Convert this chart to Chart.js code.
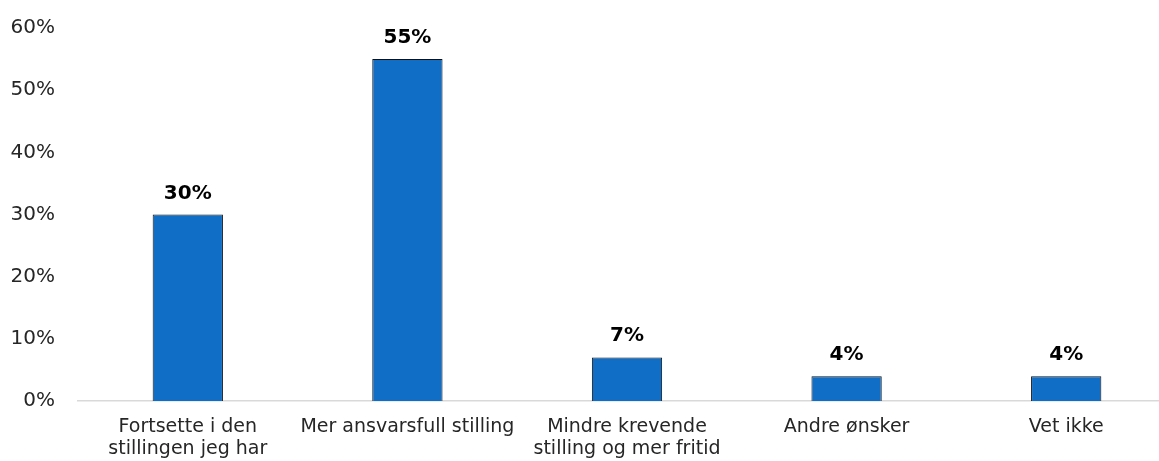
<!DOCTYPE html>
<html>
<head>
<meta charset="utf-8">
<script src="https://cdn.jsdelivr.net/npm/chart.js@4"></script>
<style>
  html, body { margin: 0; padding: 0; background: #fff; overflow: hidden; }
  #wrap { width: 1176px; height: 461px; }
</style>
</head>
<body>
<div id="wrap"><canvas id="c" width="1176" height="461"></canvas></div>
<script>
const categories = [
  ['Fortsette i den', 'stillingen jeg har'],
  'Mer ansvarsfull stilling',
  ['Mindre krevende', 'stilling og mer fritid'],
  'Andre ønsker',
  'Vet ikke'
];
const shares = [30, 55, 7, 4, 4];
const valueLabels = ['30%', '55%', '7%', '4%', '4%'];
const yTicks = [0, 10, 20, 30, 40, 50, 60];

const FONT = "'DejaVu Sans', sans-serif";

// Bold value labels above each bar
const valueLabelPlugin = {
  id: 'valueLabels',
  afterDatasetsDraw(chart) {
    const ctx = chart.ctx;
    const meta = chart.getDatasetMeta(0);
    ctx.save();
    ctx.font = 'bold 20px ' + FONT;
    ctx.fillStyle = '#000';
    ctx.textAlign = 'center';
    ctx.textBaseline = 'alphabetic';
    meta.data.forEach((bar, i) => {
      ctx.fillText(valueLabels[i], bar.x, bar.y - 16);
    });
    ctx.restore();
  }
};

new Chart(document.getElementById('c'), {
  type: 'bar',
  data: {
    labels: categories,
    datasets: [{
      data: shares,
      backgroundColor: '#106EC6',
      borderColor: '#111',
      borderWidth: 1,
      borderSkipped: 'bottom',
      categoryPercentage: 1,
      barPercentage: 0.32
    }]
  },
  options: {
    responsive: false,
    animation: false,
    layout: { padding: { top: 28, left: 0, right: 0, bottom: 0 } },
    plugins: { legend: { display: false }, tooltip: { enabled: false } },
    scales: {
      y: {
        min: 0, max: 60,
        afterBuildTicks(scale) { scale.ticks = yTicks.map(v => ({ value: v })); },
        afterFit(scale) {
          scale.width = 78;
          scale.paddingTop = 0;
          scale.paddingBottom = 0;
        },
        grid: { display: false, drawTicks: false },
        border: { display: false },
        ticks: {
          padding: 23,
          color: '#262626',
          font: { family: FONT, size: 20 },
          callback: v => v + '%'
        }
      },
      x: {
        afterFit(scale) { scale.height = 60; },
        grid: { display: false, drawTicks: false },
        border: { display: true, color: '#d9d9d9', width: 1.5 },
        ticks: {
          padding: 15,
          color: '#262626',
          maxRotation: 0,
          autoSkip: false,
          font: { family: FONT, size: 19, lineHeight: 1.17 }
        }
      }
    }
  },
  plugins: [valueLabelPlugin]
});
</script>
</body>
</html>
